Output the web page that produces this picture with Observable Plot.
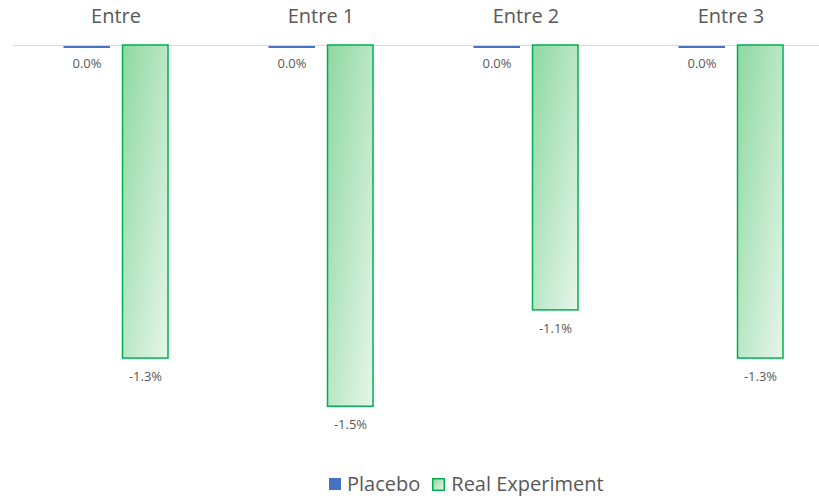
<!DOCTYPE html>
<html><head><meta charset="utf-8">
<script src="https://cdn.jsdelivr.net/npm/d3@7"></script>
<script src="https://cdn.jsdelivr.net/npm/@observablehq/plot@0.6"></script>
<style>
body{margin:0;background:#fff;font-family:"Open Sans",sans-serif;}
#chart{position:relative;width:819px;height:498px;overflow:hidden;}
#chart svg{display:block;}
.legend{position:absolute;top:471px;left:329px;display:flex;align-items:center;font-size:20px;line-height:26px;color:#595959;white-space:nowrap;}
.legend .item{display:flex;align-items:center;margin-right:12px;}
.legend svg{margin-right:6px;}
</style></head><body><div id="chart"></div>
<script>
const categories = ["Entre", "Entre 1", "Entre 2", "Entre 3"];
const seriesNames = ["Placebo", "Real Experiment"];
const placebo = [0.0, 0.0, 0.0, 0.0];
const realExperiment = [-1.3, -1.5, -1.1, -1.3];

const rows = categories.flatMap((c, i) => [
  {category: c, series: seriesNames[0], value: placebo[i]},
  {category: c, series: seriesNames[1], value: realExperiment[i]}
]);
const pl = rows.filter(d => d.series === seriesNames[0]);
const re = rows.filter(d => d.series === seriesNames[1]);
const fmt = d => d.value.toFixed(1) + "%";

const svg = Plot.plot({
  width: 819,
  height: 468,
  marginTop: 45,
  marginLeft: 13,
  marginRight: 0,
  marginBottom: 14,
  style: {fontFamily: "'Open Sans', sans-serif", background: "#fff"},
  x: {type: "band", domain: categories, range: [12.8, 834], padding: 0, axis: null},
  y: {domain: [-1.7, 0], range: [454.4, 45], axis: null},
  marks: [
    Plot.ruleY([0], {stroke: "#d9d9d9", strokeWidth: 1}),
    Plot.tickY(pl, {x: "category", y: "value", stroke: "#4472C4", strokeWidth: 2, insetLeft: 50.5, insetRight: 108, dy: 1.5}),
    Plot.barY(re, {x: "category", y1: 0, y2: "value", fill: "url(#realGrad)", stroke: "#00B050", strokeWidth: 1.5, insetLeft: 109.5, insetRight: 50}),
    Plot.text(pl, {x: "category", y: "value", text: fmt, dx: -29, dy: 18, fontSize: 13, fill: "#595959"}),
    Plot.text(re, {x: "category", y: "value", text: fmt, dx: 29.5, dy: 18, fontSize: 13, fill: "#595959"}),
    Plot.text(categories, {x: d => d, frameAnchor: "top", lineAnchor: "middle", dy: -29, fontSize: 20, fill: "#595959"})
  ]
});

const defs = d3.select(svg).insert("defs", ":first-child");
const g = defs.append("linearGradient").attr("id", "realGrad")
  .attr("x1", 0).attr("y1", 0).attr("x2", 1).attr("y2", 1);
g.append("stop").attr("offset", "0%").attr("stop-color", "#8ed8a1");
g.append("stop").attr("offset", "100%").attr("stop-color", "#e6f6ea");

const chart = document.getElementById("chart");
chart.appendChild(svg);

const legend = document.createElement("div");
legend.className = "legend";
legend.innerHTML =
  `<div class="item"><svg width="12" height="12"><rect width="12" height="12" fill="#4472C4"/></svg>${seriesNames[0]}</div>` +
  `<div class="item"><svg width="13" height="13"><rect x="0.75" y="0.75" width="11.5" height="11.5" fill="url(#realGrad)" stroke="#00B050" stroke-width="1.5"/></svg>${seriesNames[1]}</div>`;
chart.appendChild(legend);
</script>
</body></html>
